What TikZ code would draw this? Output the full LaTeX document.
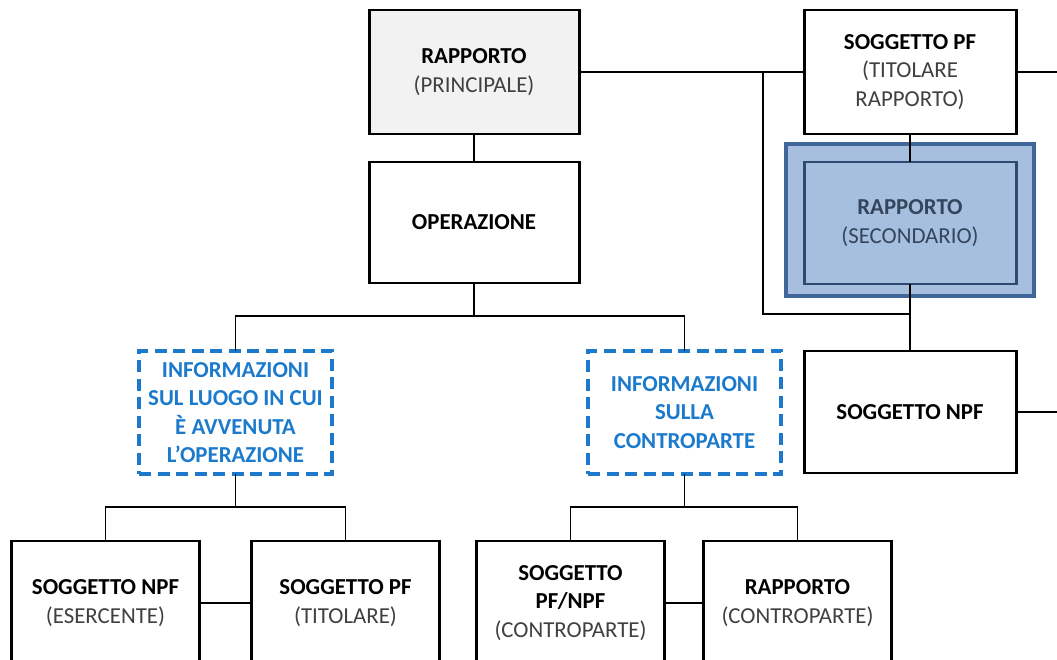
\documentclass[tikz,border=0pt]{standalone}
\usepackage{fontspec}
\setmainfont{Carlito}
\usetikzlibrary{positioning}

\definecolor{boxgray}{HTML}{F2F2F2}
\definecolor{subgray}{HTML}{404040}
\definecolor{secfill}{HTML}{A7BFDE}
\definecolor{secline}{HTML}{41679A}
\definecolor{secedge}{HTML}{2E4A70}
\definecolor{sectext}{HTML}{34455E}
\definecolor{infoblue}{HTML}{1C7ACC}

\begin{document}
\begin{tikzpicture}[
    font=\fontsize{13}{16.2}\selectfont,
    entity/.style={draw=black,line width=1.7pt,fill=white,align=center,inner sep=0pt,outer sep=0pt,minimum width=4.2cm,minimum height=2.46cm},
    leaf/.style={entity,minimum width=3.76cm,minimum height=2.48cm},
    secframe/.style={draw=secline,fill=secfill,line width=1.9pt,inner sep=0pt,outer sep=0pt,minimum width=4.96cm,minimum height=3.04cm},
    secbox/.style={entity,draw=secedge,fill=secfill,text=sectext,minimum width=4.24cm,minimum height=2.44cm},
    info/.style={draw=infoblue,line width=1.9pt,dash pattern=on 0.24cm off 0.13cm,text=infoblue,font=\fontsize{13}{16.2}\selectfont\bfseries,align=center,inner sep=0pt,outer sep=0pt,minimum width=3.86cm,minimum height=2.46cm},
    link/.style={draw=black,line width=1.1pt}
  ]

    \useasboundingbox (0,0) rectangle (21.14,-13.2);

    \node[entity,fill=boxgray,minimum height=2.48cm] (rapP) at (9.48,-1.44) {\textbf{RAPPORTO}\\\textcolor{subgray}{(PRINCIPALE)}};
    \node[entity,below=0.56cm of rapP,minimum height=2.42cm] (oper) {\textbf{OPERAZIONE}};
    \node[entity,right=4.5cm of rapP,minimum width=4.24cm,minimum height=2.48cm] (sogPF) {\textbf{SOGGETTO PF}\\\textcolor{subgray}{(TITOLARE}\\\textcolor{subgray}{RAPPORTO)}};
    \node[secframe,below=0.2cm of sogPF] (secFrame) {};
    \node[secbox,below=0.56cm of sogPF] (relSec) {\textbf{RAPPORTO}\\(SECONDARIO)};
    \node[entity,below=1.34cm of relSec,minimum width=4.24cm,minimum height=2.44cm] (npfR) {\textbf{SOGGETTO NPF}};

    \node[info,below=1.36cm of oper,xshift=-4.77cm] (infoLuogo) {INFORMAZIONI\\SUL LUOGO IN CUI\\È AVVENUTA\\L’OPERAZIONE};
    \node[info,below=1.36cm of oper,xshift=4.21cm] (infoContro) {INFORMAZIONI\\SULLA\\CONTROPARTE};

    \node[leaf,below=1.34cm of infoLuogo,xshift=-2.6cm] (esercente) {\textbf{SOGGETTO NPF}\\\textcolor{subgray}{(ESERCENTE)}};
    \node[leaf,right=1.04cm of esercente] (titolare) {\textbf{SOGGETTO PF}\\\textcolor{subgray}{(TITOLARE)}};
    \node[leaf,below=1.34cm of infoContro,xshift=-2.28cm] (controSog) {\textbf{SOGGETTO}\\\textbf{PF/NPF}\\\textcolor{subgray}{(CONTROPARTE)}};
    \node[leaf,right=0.78cm of controSog] (controRap) {\textbf{RAPPORTO}\\\textcolor{subgray}{(CONTROPARTE)}};

    \coordinate[left=0.82cm of sogPF.west] (pfJoin);
    \coordinate[below=0.6cm of relSec.south] (secJoin);
    \coordinate[right=1cm of sogPF.east] (pfExit);
    \coordinate[right=1cm of npfR.east] (npfExit);
    \coordinate[below=0.66cm of oper.south] (operJoin);
    \coordinate[below=0.66cm of infoLuogo.south] (luogoJoin);
    \coordinate[below=0.66cm of infoContro.south] (controJoin);

    \draw[link] (rapP) -- (oper);
    \draw[link] (rapP) -- (sogPF);
    \draw[link] (pfJoin) |- (secJoin);
    \draw[link] (sogPF) -- (relSec);
    \draw[link] (relSec) -- (npfR);
    \draw[link] (sogPF) -- (pfExit);
    \draw[link] (npfR) -- (npfExit);

    \draw[link] (oper) -- (operJoin);
    \draw[link] (infoLuogo.north) |- (operJoin) -| (infoContro.north);

    \draw[link] (infoLuogo) -- (luogoJoin);
    \draw[link] (esercente.north) |- (luogoJoin) -| (titolare.north);
    \draw[link] (esercente) -- (titolare);

    \draw[link] (infoContro) -- (controJoin);
    \draw[link] (controSog.north) |- (controJoin) -| (controRap.north);
    \draw[link] (controSog) -- (controRap);

\end{tikzpicture}
\end{document}
